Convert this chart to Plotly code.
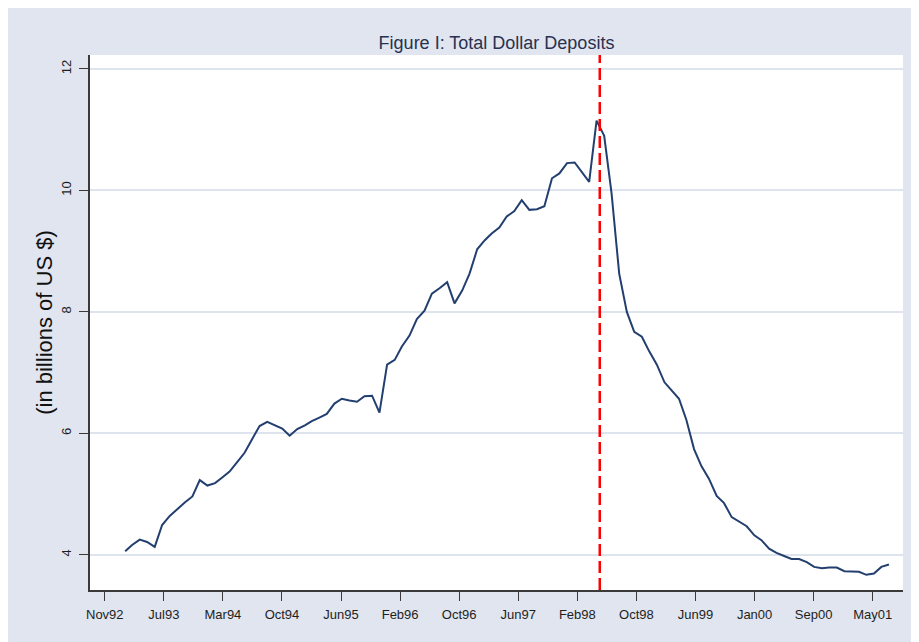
"""Figure I: Total Dollar Deposits (Stata-style line chart)."""
import plotly.graph_objects as go
import pandas as pd

# Monthly total dollar deposits, billions of US$, Feb 1993 - Aug 2001
START_MONTH = "1993-02-01"
DEPOSITS = [
    4.06, 4.16, 4.25, 4.21, 4.13, 4.49, 4.64, 4.76, 4.86, 4.96,
    5.23, 5.14, 5.18, 5.27, 5.37, 5.52, 5.68, 5.90, 6.12, 6.19,
    6.14, 6.08, 5.96, 6.07, 6.13, 6.20, 6.26, 6.32, 6.49, 6.57,
    6.54, 6.52, 6.61, 6.62, 6.34, 7.13, 7.21, 7.43, 7.61, 7.88,
    8.02, 8.30, 8.39, 8.49, 8.14, 8.35, 8.63, 9.03, 9.18, 9.29,
    9.39, 9.57, 9.66, 9.84, 9.68, 9.69, 9.74, 10.20, 10.28, 10.45,
    10.46, 10.30, 10.14, 11.15, 10.90, 9.95, 8.63, 8.00, 7.67, 7.59,
    7.35, 7.13, 6.84, 6.71, 6.57, 6.22, 5.74, 5.46, 5.25, 4.97,
    4.85, 4.62, 4.54, 4.47, 4.32, 4.24, 4.10, 4.03, 3.98, 3.93,
    3.93, 3.88, 3.80, 3.78, 3.79, 3.79, 3.73, 3.72, 3.72, 3.67,
    3.69, 3.80, 3.84,
]

# Crisis marker (dashed red line)
EVENT_DATE = "1998-05-14"

# x-axis ticks (equally spaced, as in the original Stata graph)
TICK_START = "1992-11-10"
TICK_STEP = "240D"
TICK_LABELS = [
    "Nov92", "Jul93", "Mar94", "Oct94", "Jun95", "Feb96", "Oct96",
    "Jun97", "Feb98", "Oct98", "Jun99", "Jan00", "Sep00", "May01",
]
Y_TICKS = [4, 6, 8, 10, 12]

X_RANGE = ["1992-09-11", "2001-09-27"]
Y_RANGE = [3.42, 12.23]

BG = "#e0e5ef"
GRID = "#dee4ee"
NAVY = "#233f6f"
AXIS = "#3a3a3a"
FONT = "Liberation Sans, Arial, sans-serif"

months = pd.date_range(START_MONTH, periods=len(DEPOSITS), freq="MS")
tick_dates = pd.date_range(TICK_START, periods=len(TICK_LABELS), freq=TICK_STEP)

fig = go.Figure()

fig.add_trace(go.Scatter(
    x=months,
    y=DEPOSITS,
    mode="lines",
    line=dict(color=NAVY, width=2),
    showlegend=False,
    hovertemplate="%{x|%b %Y}: %{y:.2f}<extra></extra>",
))

fig.add_shape(type="line", xref="x", yref="paper",
              x0=EVENT_DATE, x1=EVENT_DATE, y0=0, y1=1,
              line=dict(color="#ff0000", width=2.5, dash="12px,5px"))

H = 634  # page body adds an 8px offset; the 642px window shows it as a white strip
fig.update_layout(
    width=911,
    height=H,
    paper_bgcolor=BG,
    plot_bgcolor="white",
    margin=dict(l=82, r=16, t=47, b=52),
    font=dict(family=FONT, color="#1e1e1e", size=13),
    title=dict(
        text="Figure I: Total Dollar Deposits",
        x=0.5, xref="paper", xanchor="center",
        y=1 - 35 / H, yanchor="middle",
        font=dict(family=FONT, size=18, color="#28314f"),
    ),
    xaxis=dict(
        type="date",
        range=X_RANGE,
        tickmode="array",
        tickvals=tick_dates,
        ticktext=TICK_LABELS,
        ticks="outside",
        ticklen=9,
        tickwidth=1.3,
        tickcolor=AXIS,
        showline=True,
        linecolor=AXIS,
        linewidth=1.5,
        showgrid=False,
        zeroline=False,
        ticklabelstandoff=3,
        tickfont=dict(size=13, color="#1e1e1e"),
    ),
    yaxis=dict(
        range=Y_RANGE,
        tickmode="array",
        tickvals=Y_TICKS,
        ticks="outside",
        ticklen=9,
        tickwidth=1.3,
        tickcolor=AXIS,
        tickangle=-90,
        showline=True,
        linecolor=AXIS,
        linewidth=1.5,
        showgrid=True,
        gridcolor=GRID,
        gridwidth=2,
        zeroline=False,
        ticklabelstandoff=3,
        tickfont=dict(size=13, color="#1e1e1e"),
        title=dict(text="(in billions of US $)",
                   font=dict(size=22, color="#111111"), standoff=0),
    ),
)

fig.write_html("out.html")
